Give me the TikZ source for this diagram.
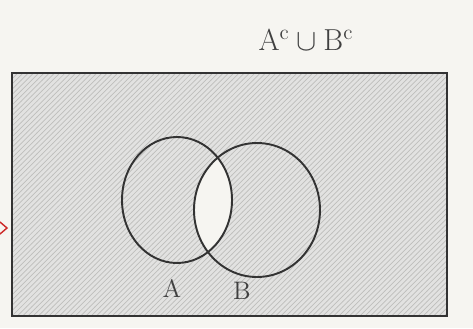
\documentclass[tikz,border=0pt]{standalone}
\usetikzlibrary{patterns}

\definecolor{paper}{RGB}{246,245,241}
\definecolor{pencil}{RGB}{190,190,188}
\definecolor{penmark}{RGB}{205,40,40}

\tikzset{
  outline/.style={line width=1.1pt, draw=black!80},
  scribble/.style={fill=pencil!45},
  setlabel/.style={font=\Large, text=black!75},
}

% universe with the two sets A and B (pixel units, y downwards)
\newcommand{\SetFrameAB}{%
  \draw[outline] (12,73) rectangle (447,316);
  \draw[outline] (177,200) ellipse (55 and 63);
  \draw[outline] (257,210) ellipse (63 and 67);
}

\begin{document}
\begin{tikzpicture}[x=0.02cm, y=-0.02cm]
      \useasboundingbox[fill=paper] (0,0) rectangle (473,328);
      \fill[scribble] (12,73) rectangle (447,316);         % everything shaded
      \fill[pattern=north east lines, pattern color=pencil] (12,73) rectangle (447,316);
      \begin{scope}
        \clip (177,200) ellipse (55 and 63);
        \fill[paper] (257,210) ellipse (63 and 67);         % A∩B left blank
      \end{scope}
      \SetFrameAB
      \node[setlabel] (labA) at (172,289) {$\mathrm{A}$};
      \node[setlabel] (labB) at (242,291) {$\mathrm{B}$};
      \node[font=\LARGE, text=black!75] (title) at (306,40) {$\mathrm{A}^{\mathrm{c}} \cup \mathrm{B}^{\mathrm{c}}$};
      \draw[penmark, line width=0.8pt] (0,222) -- (7,228) -- (0,234);   % red mark on the margin
    \end{tikzpicture}
\end{document}
